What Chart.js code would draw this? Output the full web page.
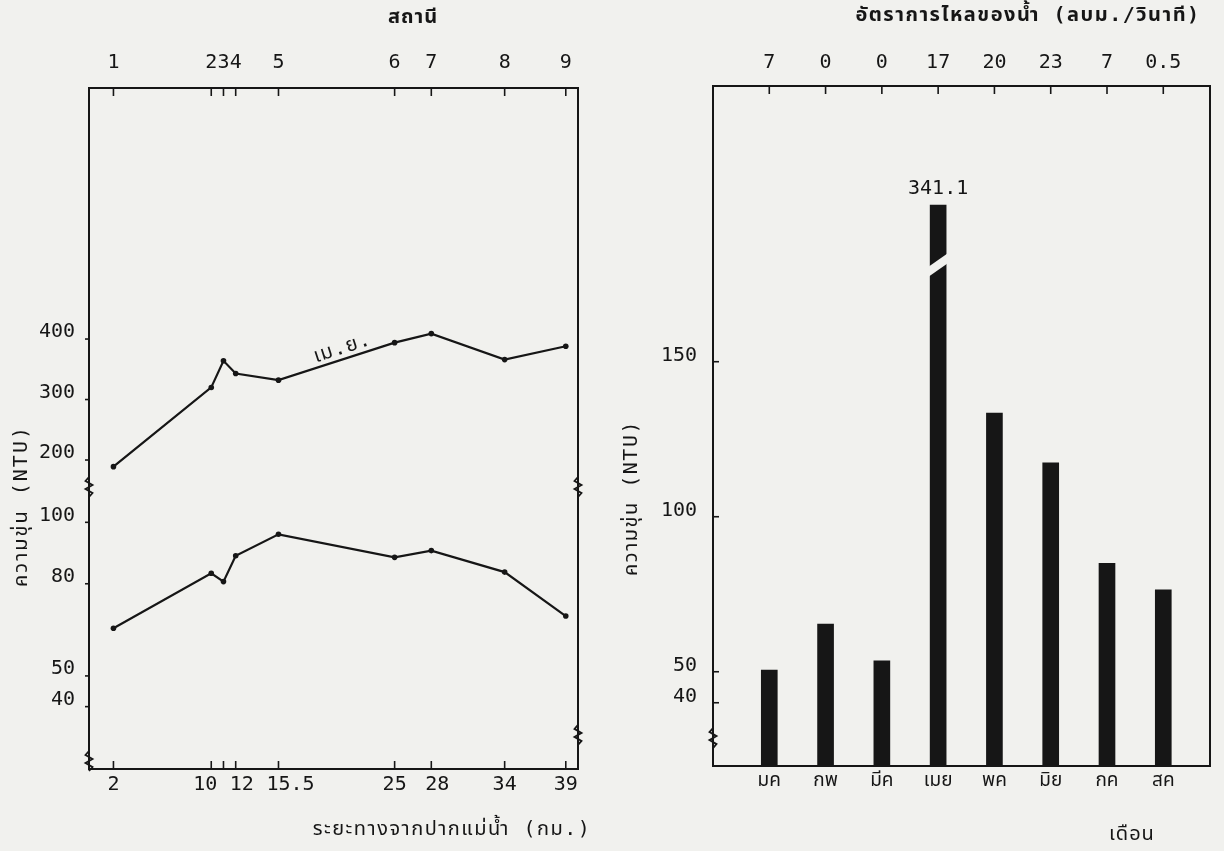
<!DOCTYPE html>
<html lang="th">
<head>
<meta charset="utf-8">
<title>ความขุ่น (NTU)</title>
<script src="https://cdn.jsdelivr.net/npm/chart.js@4.4.1/dist/chart.umd.min.js"></script>
<style>
  html, body { margin: 0; padding: 0; background: #f1f1ee; }
  #page { position: relative; width: 1224px; height: 851px; overflow: hidden; }
  canvas { position: absolute; top: 0; }
  #left { left: 0; }
  #right { left: 620px; }
</style>
</head>
<body>
<div id="page">
  <canvas id="left" width="620" height="851"></canvas>
  <canvas id="right" width="604" height="851"></canvas>
</div>
<script>
// left panel - turbidity along the river (km from the mouth), one point per station
const stationKm  = [2, 10, 11, 12, 15.5, 25, 28, 34, 39];
const stationNo  = ['1', '2', '3', '4', '5', '6', '7', '8', '9'];
const kmLabels   = ['2', '10 ', '', ' 12', '  15.5', '25', ' 28', '34', '39'];
const aprilNTU   = [189, 320, 364, 343, 332, 394, 409, 366, 388];
const lowNTU     = [65.5, 83.4, 80.7, 89.1, 96.1, 88.6, 90.8, 83.8, 69.5];
const leftTicks  = [40, 50, 80, 100, 200, 300, 400];

// right panel - monthly turbidity, flow rate along the top
const months     = ['มค', 'กพ', 'มีค', 'เมย', 'พค', 'มิย', 'กค', 'สค'];
const flowRate   = ['7', '0', '0', '17', '20', '23', '7', '0.5'];
const monthNTU   = [50.5, 65.4, 53.5, 341.1, 133.4, 117.4, 85, 76.4];
const rightTicks = [40, 50, 100, 150];

const INK  = '#161616';
const MONO = '"DejaVu Sans Mono", "Noto Sans Thai", "Noto Sans", monospace';
const tickFont = { family: MONO, size: 20 };
const thaiFont = { family: MONO, size: 19 };

// linear scale with a break: each piece maps [min,max] onto a slice [from,to] of the axis
function brokenScale(id, pieces) {
  class Broken extends Chart.LinearScale {
    getPixelForValue(value) {
      if (value === null || value === undefined || isNaN(value)) return NaN;
      const p = pieces.find(q => value <= q.max) || pieces[pieces.length - 1];
      const v = Math.min(p.max, Math.max(p.min, value));
      return this.getPixelForDecimal(p.from + (v - p.min) / (p.max - p.min) * (p.to - p.from));
    }
    getValueForPixel(pixel) {
      const d = this.getDecimalForPixel(pixel);
      const p = pieces.find(q => d <= q.to) || pieces[pieces.length - 1];
      return p.min + (d - p.from) / (p.to - p.from) * (p.max - p.min);
    }
  }
  Broken.id = id;
  Broken.defaults = { ticks: { callback: v => String(v) } };
  Chart.register(Broken);
}

brokenScale('brokenLeft', [
  { min: 19.7, max: 111.5, from: 0, to: 0.4141 },
  { min: 155.4, max: 815, from: 0.4141, to: 1 },
]);
brokenScale('brokenRight', [
  { min: 19.6, max: 181.2, from: 0, to: 0.7368 },
  { min: 300, max: 422.6, from: 0.7368, to: 1 },
]);

function zigzag(ctx, x, y) {
  ctx.save();
  ctx.lineWidth = 1.8;
  ctx.beginPath();
  ctx.moveTo(x, y - 10);
  ctx.lineTo(x - 3.5, y - 6);
  ctx.lineTo(x + 3.5, y - 2);
  ctx.lineTo(x - 3.5, y + 2);
  ctx.lineTo(x + 3.5, y + 6);
  ctx.lineTo(x, y + 10);
  ctx.stroke();
  ctx.restore();
}

function drawText(ctx, t) {
  ctx.save();
  ctx.font = (t.weight || '') + ' ' + (t.size || 20) + 'px ' + MONO;
  ctx.letterSpacing = (t.spacing || 0) + 'px';
  ctx.textAlign = 'center';
  ctx.textBaseline = 'middle';
  ctx.translate(t.x, t.y);
  if (t.rotate) ctx.rotate(t.rotate);
  ctx.fillText(t.text, 0, 0);
  ctx.restore();
}

// frame, inward ticks, axis breaks and loose text of the typed figure
function paper(cfg) {
  return {
    id: 'paper',
    afterDatasetsDraw(chart) {
      if (!cfg.barBreak) return;
      const { ctx } = chart;
      const bar = chart.getDatasetMeta(0).data[cfg.barBreak.index];
      const y = chart.scales.y.getPixelForValue(cfg.barBreak.value);
      const h = bar.width / 2 + 2;
      ctx.save();
      ctx.globalCompositeOperation = 'destination-out';
      ctx.beginPath();
      ctx.moveTo(bar.x - h, y + 12);
      ctx.lineTo(bar.x + h, y - 2);
      ctx.lineTo(bar.x + h, y - 12);
      ctx.lineTo(bar.x - h, y + 2);
      ctx.closePath();
      ctx.fill();
      ctx.restore();
    },
    afterDraw(chart) {
      const { ctx, chartArea: a, scales } = chart;
      ctx.save();
      ctx.strokeStyle = INK;
      ctx.fillStyle = INK;
      ctx.lineWidth = 2;
      ctx.strokeRect(a.left, a.top, a.right - a.left, a.bottom - a.top);

      ctx.lineWidth = 1.6;
      cfg.ticks.forEach(t => {
        const s = scales[t.scale];
        s.ticks.forEach(tk => {
          const p = s.getPixelForValue(tk.value);
          ctx.beginPath();
          if (s.isHorizontal()) {
            const y0 = s.position === 'top' ? a.top : a.bottom;
            ctx.moveTo(p, y0);
            ctx.lineTo(p, y0 + t.len);
          } else {
            ctx.moveTo(a.left, p);
            ctx.lineTo(a.left + t.len, p);
          }
          ctx.stroke();
        });
      });

      cfg.breaks.forEach(b => {
        const y = scales.y.getPixelForValue(b.value);
        zigzag(ctx, b.side === 'right' ? a.right : a.left, y);
      });

      if (cfg.lineLabel) {
        const m = chart.getDatasetMeta(0).data;
        const p0 = m[cfg.lineLabel.from], p1 = m[cfg.lineLabel.from + 1];
        const ang = Math.atan2(p1.y - p0.y, p1.x - p0.x);
        drawText(ctx, {
          text: cfg.lineLabel.text, size: 20, spacing: 1,
          x: (p0.x + p1.x) / 2 + 6, y: (p0.y + p1.y) / 2 - 13, rotate: ang,
        });
      }
      if (cfg.barLabel) {
        const bar = chart.getDatasetMeta(0).data[cfg.barLabel.index];
        drawText(ctx, { text: cfg.barLabel.text, size: 20, x: bar.x, y: bar.y - 16 });
      }
      cfg.texts.forEach(t => drawText(ctx, t));
      ctx.restore();
    },
  };
}

const commonTicks = { color: INK, autoSkip: false, maxRotation: 0, minRotation: 0 };
const noGrid = { display: false, drawTicks: false };

new Chart(document.getElementById('left'), {
  type: 'line',
  data: {
    datasets: [
      { label: 'เม.ย.', data: stationKm.map((x, i) => ({ x, y: aprilNTU[i] })) },
      { label: 'ความขุ่น', data: stationKm.map((x, i) => ({ x, y: lowNTU[i] })) },
    ],
  },
  options: {
    responsive: false,
    animation: false,
    events: [],
    layout: { padding: { right: 42 } },
    elements: {
      line: { borderColor: INK, borderWidth: 2.2, tension: 0 },
      point: { radius: 2.8, backgroundColor: INK, borderColor: INK, borderWidth: 0 },
    },
    plugins: { legend: { display: false }, tooltip: { enabled: false } },
    scales: {
      x: {
        type: 'linear', position: 'bottom', min: 0, max: 40, bounds: 'data',
        grid: noGrid, border: { display: false },
        afterBuildTicks: s => { s.ticks = stationKm.map(value => ({ value })); },
        afterFit: s => { s.height = 82; },
        ticks: { ...commonTicks, padding: 4, font: tickFont, callback: (v, i) => kmLabels[i] },
      },
      x2: {
        type: 'linear', position: 'top', min: 0, max: 40, bounds: 'data',
        grid: noGrid, border: { display: false },
        afterBuildTicks: s => { s.ticks = stationKm.map(value => ({ value })); },
        afterFit: s => { s.height = 88; },
        ticks: { ...commonTicks, padding: 13, font: tickFont, callback: (v, i) => stationNo[i] },
      },
      y: {
        type: 'brokenLeft', min: 19.7, max: 815, bounds: 'data', beginAtZero: false,
        grid: noGrid, border: { display: false },
        afterBuildTicks: s => { s.ticks = leftTicks.map(value => ({ value })); },
        afterFit: s => { s.width = 89; },
        ticks: { ...commonTicks, padding: 14, labelOffset: -7, font: tickFont },
      },
    },
  },
  plugins: [paper({
    ticks: [{ scale: 'x', len: -8 }, { scale: 'x2', len: 8 }, { scale: 'y', len: -4 }],
    breaks: [
      { value: 130, side: 'left' }, { value: 130, side: 'right' },
      { value: 22.3, side: 'left' }, { value: 30.8, side: 'right' },
    ],
    lineLabel: { from: 4, text: 'เม.ย.' },
    texts: [
      { text: 'สถานี', x: 413, y: 18, size: 20, weight: 'bold', spacing: 1 },
      { text: 'ระยะทางจากปากแม่น้ำ (กม.)', x: 452, y: 830, size: 20, spacing: 1.5 },
      { text: 'ความขุ่น (NTU)', x: 22, y: 506, size: 20, spacing: 2, rotate: -Math.PI / 2 },
    ],
  })],
});

new Chart(document.getElementById('right'), {
  type: 'bar',
  data: {
    datasets: [{
      label: 'ความขุ่น',
      data: months.map((m, i) => ({ x: i, y: monthNTU[i] })),
      backgroundColor: INK,
      barThickness: 16,
    }],
  },
  options: {
    responsive: false,
    animation: false,
    events: [],
    layout: { padding: { right: 14 } },
    plugins: { legend: { display: false }, tooltip: { enabled: false } },
    scales: {
      x: {
        type: 'linear', position: 'bottom', min: -1, max: 7.83, bounds: 'data', offset: false,
        grid: noGrid, border: { display: false },
        afterBuildTicks: s => { s.ticks = months.map((m, i) => ({ value: i })); },
        afterFit: s => { s.height = 85; },
        ticks: { ...commonTicks, padding: 4, font: thaiFont, callback: v => months[v] },
      },
      x2: {
        type: 'linear', position: 'top', min: -1, max: 7.83, bounds: 'data', offset: false,
        grid: noGrid, border: { display: false },
        afterBuildTicks: s => { s.ticks = months.map((m, i) => ({ value: i })); },
        afterFit: s => { s.height = 86; },
        ticks: { ...commonTicks, padding: 11, font: tickFont, callback: v => flowRate[v] },
      },
      y: {
        type: 'brokenRight', min: 19.6, max: 422.6, bounds: 'data', beginAtZero: false,
        grid: noGrid, border: { display: false },
        afterBuildTicks: s => { s.ticks = rightTicks.map(value => ({ value })); },
        afterFit: s => { s.width = 93; },
        ticks: { ...commonTicks, padding: 16, labelOffset: -6, font: tickFont },
      },
    },
  },
  plugins: [paper({
    ticks: [{ scale: 'x2', len: 8 }, { scale: 'y', len: 6 }],
    breaks: [{ value: 28.6, side: 'left' }],
    barBreak: { index: 3, value: 250 },
    barLabel: { index: 3, text: '341.1' },
    texts: [
      { text: 'อัตราการไหลของน้ำ (ลบม./วินาที)', x: 408, y: 16, size: 20, weight: 'bold', spacing: 1.5 },
      { text: 'เดือน', x: 512, y: 835, size: 20, spacing: 1 },
      { text: 'ความขุ่น (NTU)', x: 12, y: 498, size: 20, spacing: 1.5, rotate: -Math.PI / 2 },
    ],
  })],
});
</script>
</body>
</html>
